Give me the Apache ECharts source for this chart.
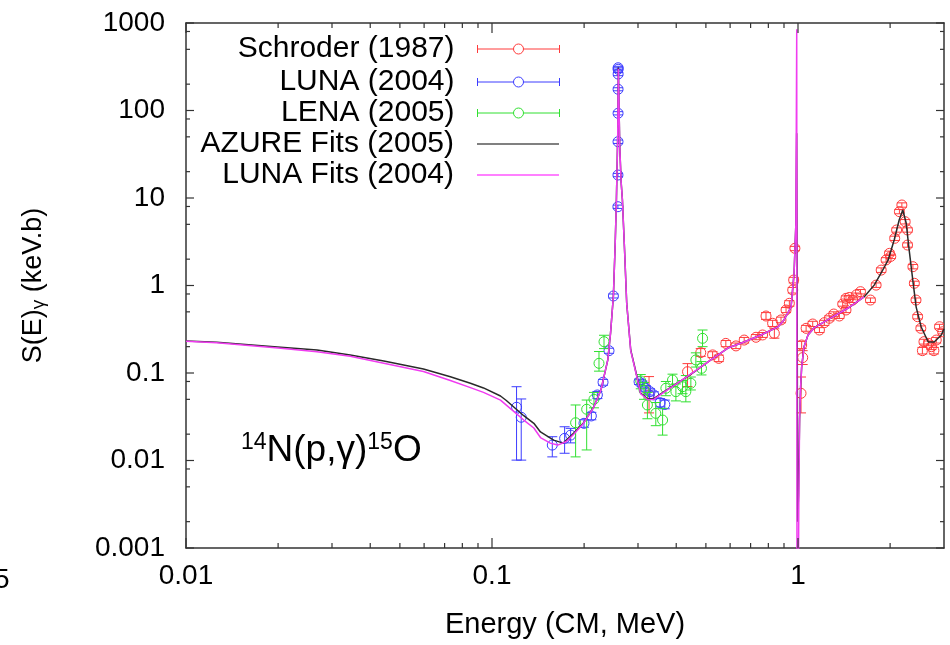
<!DOCTYPE html>
<html>
<head>
<meta charset="utf-8">
<title>14N(p,γ)15O S-factor</title>
<script src="https://cdn.jsdelivr.net/npm/echarts@6/dist/echarts.min.js"></script>
<style>
  html, body { margin: 0; padding: 0; background: #fff; }
  #chart { width: 950px; height: 645px; }
</style>
</head>
<body>
<div id="chart"></div>
<script>
// tick positions
const xMajorTicks = [0.01, 0.1, 1];
const xMinorTicks = [0.02, 0.03, 0.04, 0.05, 0.06, 0.07, 0.08, 0.09,
  0.2, 0.3, 0.4, 0.5, 0.6, 0.7, 0.8, 0.9, 2];
const yMajorTicks = [0.001, 0.01, 0.1, 1, 10, 100, 1000];
const yMinorTicks = [0.002, 0.005, 0.008, 0.02, 0.05, 0.08, 0.2, 0.5, 0.8,
  2, 5, 8, 20, 50, 80, 200, 500, 800];

// measured points: [E (MeV), S, low, high]
const schroder = [
  [0.326, 0.056, 0.035, 0.091], [0.4355, 0.1035, 0.070, 0.128], [0.481, 0.171, 0.155, 0.19],
  [0.526, 0.161, 0.15, 0.175], [0.551, 0.147, 0.135, 0.16], [0.581, 0.218, 0.20, 0.235],
  [0.627, 0.204, 0.19, 0.22], [0.667, 0.238, 0.22, 0.255], [0.729, 0.256, 0.24, 0.275],
  [0.766, 0.272, 0.255, 0.29], [0.786, 0.448, 0.41, 0.49], [0.826, 0.370, 0.34, 0.40],
  [0.837, 0.284, 0.25, 0.32], [0.880, 0.404, 0.375, 0.435], [0.914, 0.525, 0.49, 0.56],
  [0.937, 0.626, 0.58, 0.67], [0.961, 0.888, 0.82, 0.95], [0.968, 1.156, 1.07, 1.24],
  [0.977, 2.66, 2.5, 2.8], [1.023, 0.0586, 0.035, 0.09], [1.028, 0.209, 0.19, 0.23],
  [1.036, 0.15, 0.125, 0.18], [1.063, 0.324, 0.30, 0.35], [1.117, 0.363, 0.34, 0.39],
  [1.175, 0.310, 0.29, 0.33], [1.219, 0.376, 0.35, 0.40], [1.266, 0.422, 0.395, 0.45],
  [1.309, 0.472, 0.44, 0.50], [1.365, 0.448, 0.42, 0.48], [1.40, 0.615, 0.58, 0.65],
  [1.435, 0.713, 0.67, 0.76], [1.47, 0.73, 0.69, 0.77], [1.435, 0.525, 0.49, 0.56],
  [1.51, 0.682, 0.64, 0.72], [1.55, 0.78, 0.74, 0.82], [1.60, 0.85, 0.80, 0.90],
  [1.725, 0.682, 0.64, 0.72], [1.80, 1.01, 0.95, 1.07], [1.87, 1.50, 1.41, 1.59],
  [1.94, 1.96, 1.85, 2.08], [1.99, 2.33, 2.2, 2.47], [2.01, 2.15, 2.03, 2.28],
  [2.07, 3.46, 3.27, 3.66], [2.10, 4.31, 4.07, 4.56], [2.145, 6.98, 6.6, 7.4],
  [2.185, 8.32, 7.85, 8.8], [2.24, 5.36, 5.05, 5.67], [2.28, 4.31, 4.07, 4.56],
  [2.28, 2.90, 2.74, 3.07], [2.374, 1.64, 1.55, 1.74], [2.40, 1.06, 1.0, 1.12],
  [2.43, 0.682, 0.64, 0.72], [2.46, 0.44, 0.415, 0.465], [2.52, 0.324, 0.305, 0.345],
  [2.58, 0.228, 0.214, 0.243], [2.55, 0.18, 0.165, 0.196], [2.67, 0.218, 0.205, 0.232],
  [2.73, 0.20, 0.185, 0.215], [2.78, 0.18, 0.165, 0.196], [2.83, 0.238, 0.22, 0.255],
  [2.90, 0.338, 0.32, 0.36], [2.97, 0.296, 0.28, 0.315]
];
const luna = [
  [0.1203, 0.0406, 0.0101, 0.0697], [0.1246, 0.0312, 0.0101, 0.0505], [0.1574, 0.0150, 0.0110, 0.0187],
  [0.1727, 0.0179, 0.0121, 0.0243], [0.1807, 0.0195, 0.0159, 0.0233], [0.1998, 0.0266, 0.0240, 0.0292],
  [0.2112, 0.0323, 0.0292, 0.0355], [0.2210, 0.0561, 0.0510, 0.0615], [0.2306, 0.0784, 0.0725, 0.0845],
  [0.2412, 0.180, 0.168, 0.192], [0.2493, 0.759, 0.72, 0.80], [0.2579, 7.95, 7.6, 8.3],
  [0.2580, 18.3, 17.5, 19.1], [0.2581, 44, 42, 46], [0.2582, 92.9, 89, 97],
  [0.2582, 175, 168, 182], [0.2583, 261, 250, 272], [0.2583, 296, 284, 308],
  [0.2583, 308, 296, 320], [0.3024, 0.0796, 0.074, 0.085], [0.310, 0.0749, 0.069, 0.081],
  [0.318, 0.0669, 0.062, 0.072], [0.3284, 0.0612, 0.056, 0.066], [0.3378, 0.0561, 0.051, 0.061],
  [0.3543, 0.0458, 0.041, 0.051], [0.3670, 0.0437, 0.039, 0.049]
];
const lena = [
  [0.1876, 0.0270, 0.0110, 0.0431], [0.2039, 0.0385, 0.0132, 0.0491], [0.2154, 0.050, 0.040, 0.060],
  [0.2237, 0.129, 0.105, 0.176], [0.2323, 0.228, 0.19, 0.27], [0.3063, 0.0811, 0.066, 0.096],
  [0.314, 0.0639, 0.050, 0.078], [0.322, 0.0431, 0.030, 0.060], [0.343, 0.0346, 0.025, 0.046],
  [0.361, 0.029, 0.0195, 0.0395], [0.370, 0.0669, 0.055, 0.080], [0.389, 0.0832, 0.070, 0.097],
  [0.399, 0.0612, 0.048, 0.075], [0.4195, 0.0697, 0.058, 0.082], [0.430, 0.0612, 0.0468, 0.0935],
  [0.4465, 0.0763, 0.064, 0.090], [0.4637, 0.141, 0.117, 0.17], [0.4837, 0.113, 0.095, 0.135],
  [0.4876, 0.249, 0.20, 0.31]
];

// fit curves: [E (MeV), S]
const azureFit = [
  [0.01, 0.232], [0.0126, 0.224], [0.0199, 0.198], [0.0268, 0.183], [0.0344, 0.161],
  [0.0443, 0.137], [0.0597, 0.111], [0.0731, 0.0907], [0.085, 0.0763], [0.0938, 0.0675],
  [0.1066, 0.0546], [0.1114, 0.0485], [0.127, 0.0325], [0.137, 0.0266], [0.144, 0.0212],
  [0.159, 0.0171], [0.171, 0.0158], [0.185, 0.0206], [0.199, 0.0268], [0.215, 0.0408],
  [0.227, 0.064], [0.239, 0.141], [0.244, 0.286], [0.2493, 0.76], [0.2527, 3],
  [0.2550, 9.5], [0.2575, 50], [0.2588, 310], [0.2614, 40], [0.2643, 15],
  [0.2668, 9.5], [0.2712, 2.5], [0.2756, 0.62], [0.284, 0.183], [0.2995, 0.0832],
  [0.306, 0.059], [0.323, 0.0505], [0.338, 0.051], [0.364, 0.0607], [0.405, 0.0769],
  [0.457, 0.1026], [0.519, 0.141], [0.590, 0.193], [0.666, 0.226], [0.757, 0.272],
  [0.860, 0.336], [0.900, 0.404], [0.949, 0.567], [0.971, 1.39], [0.984, 5],
  [0.990, 55], [0.994, 0.5], [0.997, 0.002], [1.004, 0.004], [1.012, 0.03],
  [1.020, 0.07], [1.028, 0.117], [1.046, 0.198], [1.078, 0.272], [1.128, 0.327],
  [1.282, 0.426], [1.458, 0.553], [1.644, 0.74], [1.774, 1.01], [1.870, 1.39],
  [1.971, 1.96], [2.062, 3.31], [2.141, 5.6], [2.20, 7.3], [2.257, 5.18],
  [2.308, 2.55], [2.378, 1.07], [2.433, 0.567], [2.527, 0.336], [2.664, 0.226],
  [2.787, 0.226], [2.94, 0.272], [3.0, 0.32]
];
const lunaFit = [
  [0.01, 0.230], [0.0126, 0.222], [0.02, 0.193], [0.0268, 0.175], [0.0344, 0.155],
  [0.0443, 0.129], [0.0597, 0.104], [0.0731, 0.0822], [0.085, 0.068], [0.0938, 0.0600],
  [0.1066, 0.0490], [0.1114, 0.043], [0.127, 0.0290], [0.137, 0.0235], [0.144, 0.0183],
  [0.155, 0.0158], [0.164, 0.0150], [0.175, 0.0165], [0.185, 0.0200], [0.199, 0.0265],
  [0.215, 0.0405], [0.227, 0.064], [0.239, 0.141], [0.244, 0.286], [0.2493, 0.76],
  [0.2527, 3], [0.2550, 9.5], [0.2575, 50], [0.2588, 300], [0.2614, 40],
  [0.2643, 15], [0.2668, 9.5], [0.2712, 2.5], [0.2756, 0.62], [0.284, 0.18],
  [0.2995, 0.081], [0.306, 0.058], [0.323, 0.0495], [0.338, 0.050], [0.364, 0.060],
  [0.405, 0.0769], [0.457, 0.103], [0.519, 0.141], [0.590, 0.193], [0.666, 0.226],
  [0.757, 0.272], [0.860, 0.336], [0.900, 0.404], [0.949, 0.567], [0.971, 1.39],
  [0.984, 5], [0.9905, 850], [0.9925, 0.0002], [1.003, 0.0004], [1.006, 0.003],
  [1.012, 0.03], [1.020, 0.07], [1.028, 0.117], [1.046, 0.198], [1.078, 0.272],
  [1.128, 0.327], [1.282, 0.426], [1.458, 0.553], [1.644, 0.74]
];

const FONT = "'Liberation Sans', Arial, Helvetica, sans-serif";
const RED = '#ff3b3b', BLUE = '#3c3cff', GREEN = '#30e030';
const FRAME = '#333';
const ERR_ICON = 'path://M0,6H36M46,6H82M0,2V10M82,2V10M36,6A5,5,0,1,1,46,6A5,5,0,1,1,36,6';
const X_MIN = 0.01, X_MAX = 3, Y_MIN = 0.001, Y_MAX = 1000;

// error bar + open circle
function errorBars(color) {
  return function (params, api) {
    const c = api.coord([api.value(0), api.value(1)]);
    const lo = api.coord([api.value(0), api.value(2)])[1];
    const hi = api.coord([api.value(0), api.value(3)])[1];
    const st = function () { return { stroke: color, lineWidth: 1, fill: null }; };
    return {
      type: 'group',
      children: [
        { type: 'line', shape: { x1: c[0], y1: hi, x2: c[0], y2: lo }, style: st() },
        { type: 'line', shape: { x1: c[0] - 5, y1: hi, x2: c[0] + 5, y2: hi }, style: st() },
        { type: 'line', shape: { x1: c[0] - 5, y1: lo, x2: c[0] + 5, y2: lo }, style: st() },
        { type: 'circle', shape: { cx: c[0], cy: c[1], r: 5 }, style: st() }
      ]
    };
  };
}

function decadeLabel(v) {
  const p = Math.log10(v);
  return Math.abs(p - Math.round(p)) < 1e-6 ? String(+v.toPrecision(6)) : '';
}

function legendRow(item, top) {
  return {
    data: [item],
    orient: 'vertical',
    right: 390,
    top: top,
    align: 'right',
    itemWidth: 82,
    itemHeight: 10,
    padding: 0,
    textStyle: { fontFamily: FONT, fontSize: 30, color: '#000', lineHeight: 30, padding: [0, 18, 0, 0] }
  };
}
function hiddenSymbol() {
  return { color: 'rgba(0,0,0,0)', borderColor: 'rgba(0,0,0,0)', borderWidth: 0, opacity: 0 };
}
function frameLine() {
  return { show: true, onZero: false, lineStyle: { color: FRAME, width: 1.5 } };
}
function labelStyle(extra) {
  return Object.assign({ fontFamily: FONT, fontSize: 28, color: '#000' }, extra);
}

const baseGraphic = [
  {
    id: 'reaction', type: 'text', x: 241, y: 431, silent: true,
    style: {
      text: '{s|14}{m|N(p,γ)}{s|15}{m|O}',
      rich: {
        m: { fontFamily: FONT, fontSize: 37, lineHeight: 40, fill: '#000' },
        s: { fontFamily: FONT, fontSize: 23, lineHeight: 23, verticalAlign: 'top', fill: '#000' }
      }
    }
  },
  {
    id: 'edge5', type: 'text', x: -6, y: 566, silent: true,
    style: { text: '5', fontFamily: FONT, fontSize: 28, fill: '#000' }
  }
];

const chart = echarts.init(document.getElementById('chart'));
chart.setOption({
  animation: false,
  backgroundColor: '#fff',
  grid: { left: 186, right: 6, top: 23, bottom: 97 },
  legend: [
    legendRow({ name: 'Schroder (1987)', icon: ERR_ICON, itemStyle: { color: 'transparent', borderColor: RED, borderWidth: 1 } }, 34),
    legendRow({ name: 'LUNA (2004)', icon: ERR_ICON, itemStyle: { color: 'transparent', borderColor: BLUE, borderWidth: 1 } }, 67),
    legendRow({ name: 'LENA (2005)', icon: ERR_ICON, itemStyle: { color: 'transparent', borderColor: GREEN, borderWidth: 1 } }, 98),
    legendRow({ name: 'AZURE Fits (2005)', itemStyle: hiddenSymbol(), lineStyle: { color: '#808080', width: 2 } }, 129),
    legendRow({ name: 'LUNA Fits (2004)', itemStyle: hiddenSymbol(), lineStyle: { color: '#ff80ff', width: 2 } }, 160)
  ],
  xAxis: [
    {
      type: 'log', min: X_MIN, max: X_MAX, position: 'bottom',
      axisLine: frameLine(),
      axisTick: { show: false },
      axisLabel: labelStyle({ margin: 14, formatter: decadeLabel, showMaxLabel: false }),
      splitLine: { show: false },
      name: 'Energy (CM, MeV)', nameLocation: 'middle', nameGap: 62,
      nameTextStyle: { fontFamily: FONT, fontSize: 29, color: '#000' }
    },
    {
      type: 'log', min: X_MIN, max: X_MAX, position: 'top',
      axisLine: frameLine(), axisTick: { show: false },
      axisLabel: { show: false }, splitLine: { show: false }
    }
  ],
  yAxis: [
    {
      type: 'log', min: Y_MIN, max: Y_MAX, position: 'left',
      axisLine: frameLine(),
      axisTick: { show: false },
      axisLabel: labelStyle({ margin: 21, formatter: decadeLabel }),
      splitLine: { show: false },
      name: '{a|S(E)}{s|γ}{a| (keV.b)}', nameLocation: 'middle', nameGap: 138, nameRotate: 90,
      nameTextStyle: {
        fontFamily: FONT, color: '#000',
        rich: {
          a: { fontFamily: FONT, fontSize: 27, color: '#000' },
          s: { fontFamily: FONT, fontSize: 19, color: '#000', padding: [10, 0, 0, 0] }
        }
      }
    },
    {
      type: 'log', min: Y_MIN, max: Y_MAX, position: 'right',
      axisLine: frameLine(), axisTick: { show: false },
      axisLabel: { show: false }, splitLine: { show: false }
    }
  ],
  graphic: baseGraphic,
  series: [
    {
      name: 'Schroder (1987)', type: 'custom', xAxisIndex: 0, yAxisIndex: 0,
      renderItem: errorBars(RED), data: schroder, encode: { x: 0, y: 1 },
      itemStyle: { color: RED }, clip: true, silent: true, z: 2
    },
    {
      name: 'LUNA (2004)', type: 'custom', xAxisIndex: 0, yAxisIndex: 0,
      renderItem: errorBars(BLUE), data: luna, encode: { x: 0, y: 1 },
      itemStyle: { color: BLUE }, clip: true, silent: true, z: 2
    },
    {
      name: 'LENA (2005)', type: 'custom', xAxisIndex: 0, yAxisIndex: 0,
      renderItem: errorBars(GREEN), data: lena, encode: { x: 0, y: 1 },
      itemStyle: { color: GREEN }, clip: true, silent: true, z: 2
    },
    {
      name: 'AZURE Fits (2005)', type: 'line', xAxisIndex: 0, yAxisIndex: 0,
      data: azureFit, symbol: 'none', clip: true, silent: true, z: 3,
      lineStyle: { color: '#2a2a2a', width: 1.5 }, itemStyle: { color: '#2a2a2a' }
    },
    {
      name: 'LUNA Fits (2004)', type: 'line', xAxisIndex: 0, yAxisIndex: 0,
      data: lunaFit, symbol: 'none', clip: true, silent: true, z: 4,
      lineStyle: { color: '#f03cf0', width: 1.5 }, itemStyle: { color: '#f03cf0' }
    }
  ]
});

// inward ticks on all four sides, placed through the chart's own log scales
const finder = { xAxisIndex: 0, yAxisIndex: 0 };
const lowCorner = chart.convertToPixel(finder, [X_MIN, Y_MIN]);
const highCorner = chart.convertToPixel(finder, [X_MAX, Y_MAX]);
const xL = lowCorner[0], yB = lowCorner[1], xR = highCorner[0], yT = highCorner[1];

function tickLine(x1, y1, x2, y2) {
  return {
    type: 'line', silent: true, z: 20,
    shape: { x1: x1, y1: y1, x2: x2, y2: y2 },
    style: { stroke: FRAME, lineWidth: 1.2 }
  };
}
function xTicks(values, len) {
  const out = [];
  values.forEach(function (v) {
    const x = chart.convertToPixel(finder, [v, 1])[0];
    out.push(tickLine(x, yB, x, yB - len), tickLine(x, yT, x, yT + len));
  });
  return out;
}
function yTicks(values, len) {
  const out = [];
  values.forEach(function (v) {
    const y = chart.convertToPixel(finder, [0.1, v])[1];
    out.push(tickLine(xL, y, xL + len, y), tickLine(xR, y, xR - len, y));
  });
  return out;
}

chart.setOption({
  graphic: baseGraphic
    .concat(xTicks(xMajorTicks, 10))
    .concat(xTicks(xMinorTicks, 5))
    .concat(yTicks(yMajorTicks, 8))
    .concat(yTicks(yMinorTicks, 4))
});
</script>
</body>
</html>
